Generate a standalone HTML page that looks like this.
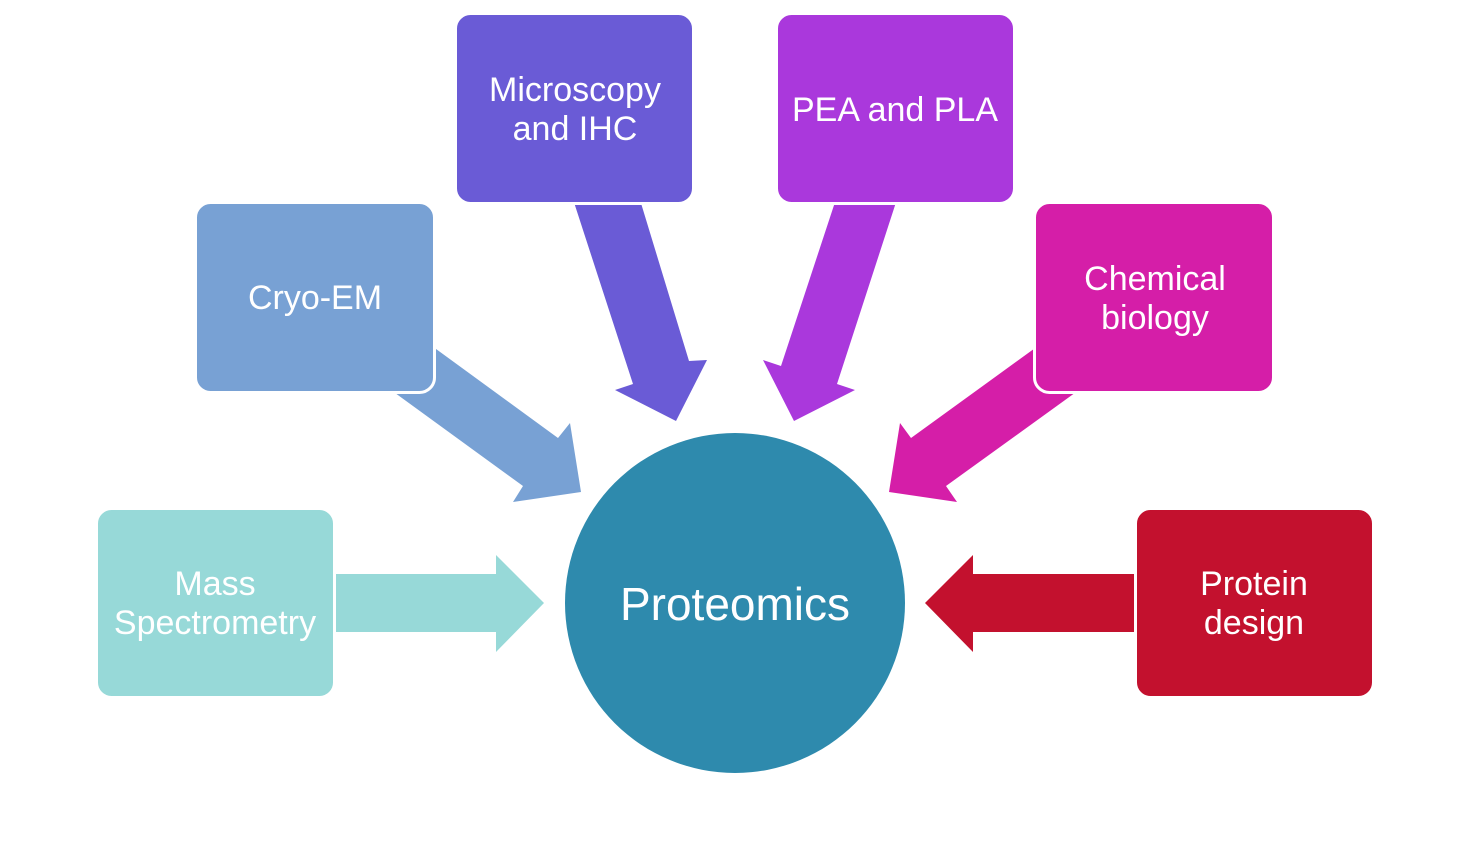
<!DOCTYPE html>
<html><head><meta charset="utf-8"><style>
html,body{margin:0;padding:0;background:#fff;}
svg{display:block;}
text{font-family:"Liberation Sans","DejaVu Sans",sans-serif;fill:#fff;text-anchor:middle;}
</style></head><body>
<svg width="1470" height="862" viewBox="0 0 1470 862">
<polygon fill="#97d9d8" points="320,574 496,574 496,555 544,603 496,652 496,632 320,632"/>
<polygon fill="#c3112e" points="1150,574 973,574 973,555 925,603 973,652 973,632 1150,632"/>
<polygon fill="#78a1d4" points="410,330 558,438 570,423 581,492 513,502 523,486 380,382"/>
<polygon fill="#6a5bd6" points="570,190 637,190 689,361 707,360 676,421 615,390 633,384"/>
<polygon fill="#aa38dc" points="839,190 900,190 837,384 855,390 794,421 763,360 781,366"/>
<polygon fill="#d51ea8" points="1060,330 1090,382 946,486 957,502 889,492 900,423 911,438"/>
<rect x="96.5" y="508.5" width="238" height="189" rx="15" fill="#97d9d8" stroke="#fff" stroke-width="3"/>
<rect x="195.5" y="202.5" width="239" height="190" rx="15" fill="#78a1d4" stroke="#fff" stroke-width="3"/>
<rect x="455.5" y="13.5" width="238" height="190" rx="15" fill="#6a5bd6" stroke="#fff" stroke-width="3"/>
<rect x="776.5" y="13.5" width="238" height="190" rx="15" fill="#aa38dc" stroke="#fff" stroke-width="3"/>
<rect x="1034.5" y="202.5" width="239" height="190" rx="15" fill="#d51ea8" stroke="#fff" stroke-width="3"/>
<rect x="1135.5" y="508.5" width="238" height="189" rx="15" fill="#c3112e" stroke="#fff" stroke-width="3"/>
<circle cx="735" cy="603" r="170" fill="#2e8aad"/>
<text x="215" y="595" font-size="34">Mass</text>
<text x="215" y="634" font-size="34">Spectrometry</text>
<text x="315" y="309" font-size="34">Cryo-EM</text>
<text x="575" y="101" font-size="34">Microscopy</text>
<text x="575" y="140" font-size="34">and IHC</text>
<text x="895" y="121" font-size="34">PEA and PLA</text>
<text x="1155" y="290" font-size="34">Chemical</text>
<text x="1155" y="329" font-size="34">biology</text>
<text x="1254" y="595" font-size="34">Protein</text>
<text x="1254" y="634" font-size="34">design</text>
<text x="735" y="620" font-size="46">Proteomics</text>
</svg>
</body></html>
